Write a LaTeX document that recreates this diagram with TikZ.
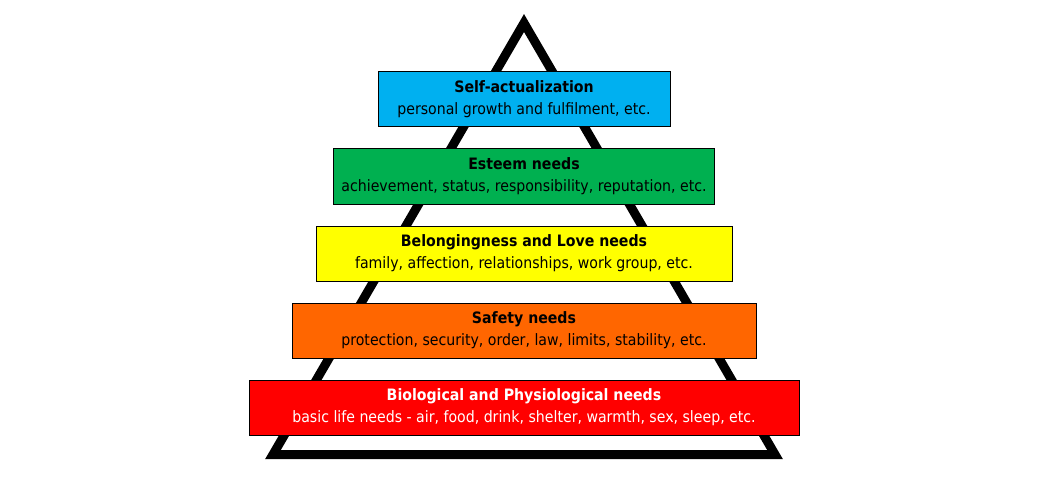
\documentclass[tikz,border=0pt]{standalone}
\usepackage{fontspec}
\setmainfont{DejaVu Sans Condensed}
\usetikzlibrary{positioning}
\definecolor{SkyBlue}{HTML}{00B0F0}
\definecolor{Leaf}{HTML}{00B050}
\definecolor{Lemon}{HTML}{FFFF00}
\definecolor{Tangerine}{HTML}{FF6600}
\definecolor{Scarlet}{HTML}{FF0000}
\tikzset{level/.style={draw=black,line width=1pt,minimum height=55pt,inner sep=0pt,
    align=center,font=\fontsize{15.7}{22}\selectfont}}

\begin{document}
\begin{tikzpicture}[x=1pt,y=-1pt,node distance=21pt]
    \useasboundingbox (0,0) rectangle (1051,481);
    \draw[line width=9pt] (524,23) -- (775,454.5) -- (273,454.5) -- cycle;
    \node[level,fill=SkyBlue,minimum width=292pt] (self) at (524,99.5)
      {\textbf{Self-actualization}\\personal growth and fulfilment, etc.};
    \node[level,fill=Leaf,minimum width=381pt,below=of self] (esteem)
      {\textbf{Esteem needs}\\achievement, status, responsibility, reputation, etc.};
    \node[level,fill=Lemon,minimum width=416pt,below=of esteem] (love)
      {\textbf{Belongingness and Love needs}\\family, affection, relationships, work group, etc.};
    \node[level,fill=Tangerine,minimum width=464pt,below=of love] (safety)
      {\textbf{Safety needs}\\protection, security, order, law, limits, stability, etc.};
    \node[level,fill=Scarlet,minimum width=550pt,below=of safety,text=white] (bio)
      {\textbf{Biological and Physiological needs}\\basic life needs - air, food, drink, shelter, warmth, sex, sleep, etc.};
\end{tikzpicture}
\end{document}
